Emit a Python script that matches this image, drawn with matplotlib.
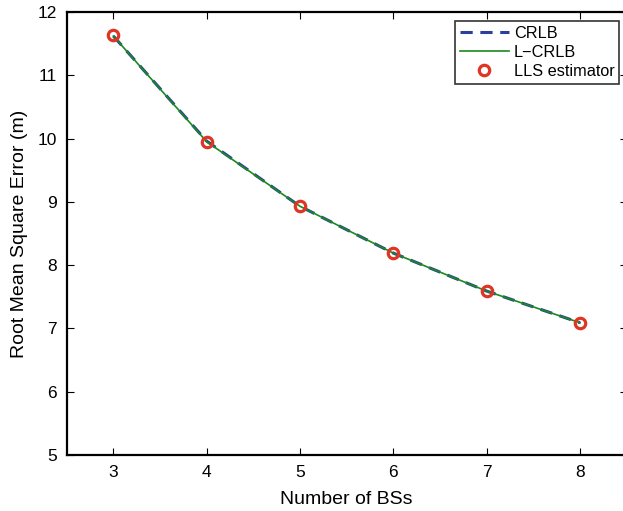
import matplotlib.pyplot as plt

plt.rcParams['font.family'] = ['Liberation Sans', 'DejaVu Sans']

num_bs = [3, 4, 5, 6, 7, 8]
crlb = [11.62, 9.96, 8.93, 8.19, 7.59, 7.09]
l_crlb = [11.62, 9.95, 8.93, 8.19, 7.59, 7.09]
lls = [11.63, 9.95, 8.93, 8.19, 7.59, 7.09]

fig = plt.figure(figsize=(6.23, 5.11), dpi=100)
ax = fig.add_axes([66.7 / 623, 1 - 455 / 511, 560 / 623, 443 / 511])

ax.plot(num_bs, crlb, linestyle=(0, (4, 2.5)), color='#2b3f9f', linewidth=2.2, label='CRLB')
ax.plot(num_bs, l_crlb, linestyle='-', color='#1a8a1a', linewidth=1.2, label='L\u2212CRLB')
ax.plot(num_bs, lls, linestyle='none', marker='o', markersize=7.5, markeredgewidth=2.3,
        markerfacecolor='none', markeredgecolor='#e03424', label='LLS estimator')

ax.set_xlim(2.5, 8.5)
ax.set_ylim(5, 12)
ax.set_xticks(num_bs)
ax.set_yticks(range(5, 13))
ax.tick_params(direction='in', top=True, right=True, length=5, width=0.8, labelsize=12.5, pad=7)
for s in ax.spines.values():
    s.set_linewidth(1.6)

ax.set_xlabel('Number of BSs', fontsize=14, labelpad=8)
ax.set_ylabel('Root Mean Square Error (m)', fontsize=14, labelpad=7)

leg = ax.legend(loc='upper right', bbox_to_anchor=(619.3 / 623, 1 - 20.7 / 511),
                bbox_transform=fig.transFigure, borderaxespad=0, fancybox=False,
                edgecolor='black', fontsize=11.7, handlelength=3.0, borderpad=0.3,
                labelspacing=0.25, handletextpad=0.3)
leg.get_frame().set_linewidth(1.2)

fig.savefig('out.png', dpi=100)
